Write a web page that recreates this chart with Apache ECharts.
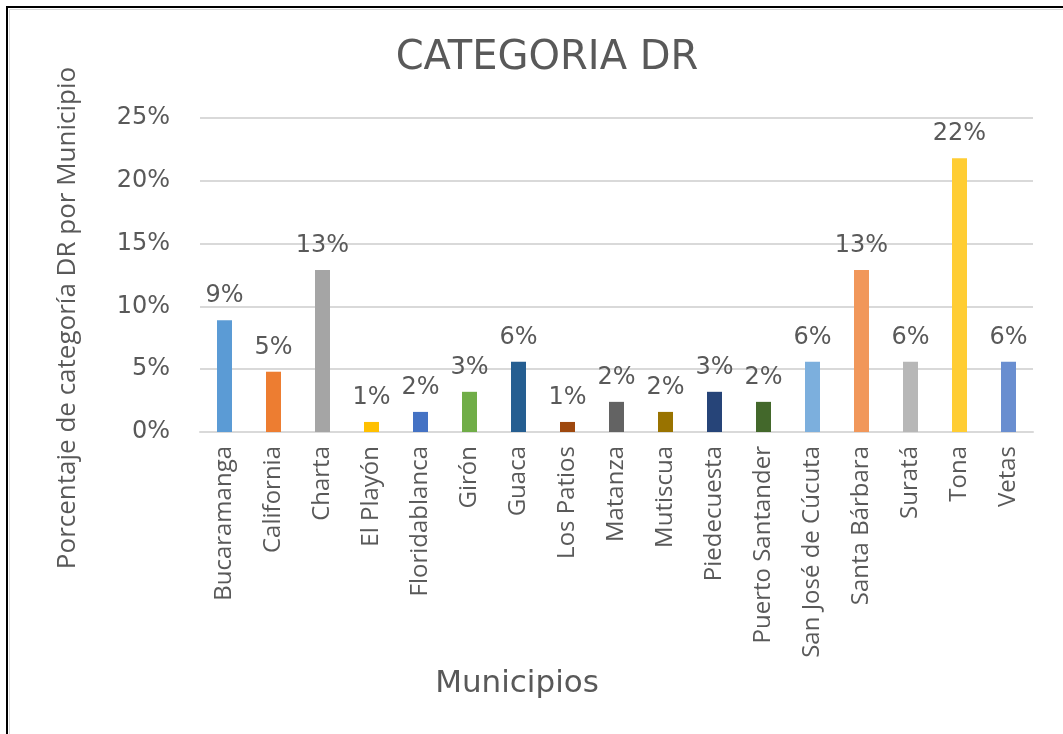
<!DOCTYPE html>
<html>
<head>
<meta charset="utf-8">
<script src="https://cdn.jsdelivr.net/npm/echarts@6/dist/echarts.min.js"></script>
<style>
  html, body { margin: 0; padding: 0; background: #fff; }
  #chart { width: 1063px; height: 734px; }
</style>
</head>
<body>
<div id="chart"></div>
<script>
const municipios = ['Bucaramanga', 'California', 'Charta', 'El Playón', 'Floridablanca', 'Girón', 'Guaca',
  'Los Patios', 'Matanza', 'Mutiscua', 'Piedecuesta', 'Puerto Santander', 'San José de Cúcuta',
  'Santa Bárbara', 'Suratá', 'Tona', 'Vetas'];
// porcentaje de categoria DR por municipio
const porcentajes = [8.9, 4.8, 12.9, 0.8, 1.6, 3.2, 5.6, 0.8, 2.4, 1.6, 3.2, 2.4, 5.6, 12.9, 5.6, 21.8, 5.6];
const colores = ['#5B9BD5', '#ED7D31', '#A5A5A5', '#FFC000', '#4472C4', '#70AD47', '#255E91', '#9E480E',
  '#636363', '#997300', '#264478', '#43682B', '#7CAFDD', '#F1975A', '#B7B7B7', '#FFCD33', '#698ED0'];
const yTicks = [0, 5, 10, 15, 20, 25];

const chart = echarts.init(document.getElementById('chart'));
const gris = '#595959';

chart.setOption({
  animation: false,
  title: {
    text: 'CATEGORIA DR',
    left: 542, top: 34, textAlign: 'center',
    textStyle: { fontFamily: 'DejaVu Sans', fontSize: 40, fontWeight: 'normal', color: gris }
  },
  grid: { left: 200, right: 30, top: 118, bottom: 302 },
  xAxis: {
    type: 'category',
    data: municipios,
    axisLine: { lineStyle: { color: '#d9d9d9', width: 2 } },
    axisTick: { show: false },
    axisLabel: {
      rotate: 90, margin: 14, interval: 0,
      fontFamily: 'Open Sans', fontSize: 24, color: gris
    }
  },
  yAxis: {
    type: 'value',
    min: yTicks[0], max: yTicks[yTicks.length - 1], interval: 5,
    axisLine: { show: false },
    axisTick: { show: false },
    splitLine: { lineStyle: { color: '#d9d9d9', width: 2 } },
    axisLabel: {
      margin: 30,
      fontFamily: 'DejaVu Sans', fontSize: 24, color: gris,
      formatter: v => v + '%'
    }
  },
  series: [{
    type: 'bar',
    barWidth: 15,
    data: porcentajes.map((v, i) => ({ value: v, itemStyle: { color: colores[i] } })),
    label: {
      show: true, position: 'top', distance: 12,
      fontFamily: 'DejaVu Sans', fontSize: 24, color: gris,
      formatter: p => Math.round(p.value) + '%'
    }
  }],
  graphic: [
    {
      type: 'rect', silent: true,
      shape: { x: 7, y: 7, width: 1100, height: 800 },
      style: { fill: 'none', stroke: '#000', lineWidth: 2 }
    },
    {
      type: 'rect', silent: true,
      shape: { x: 9.5, y: 9.5, width: 1100, height: 800 },
      style: { fill: 'none', stroke: '#d9d9d9', lineWidth: 1 }
    },
    {
      type: 'text', x: 68, y: 318, rotation: Math.PI / 2,
      style: {
        text: 'Porcentaje de categoría DR por Municipio',
        font: '26px "Open Sans"', fill: gris,
        textAlign: 'center', textVerticalAlign: 'middle'
      }
    },
    {
      type: 'text', x: 517, y: 684,
      style: {
        text: 'Municipios',
        font: '31px "DejaVu Sans"', fill: gris,
        textAlign: 'center', textVerticalAlign: 'middle'
      }
    }
  ]
});
</script>
</body>
</html>
